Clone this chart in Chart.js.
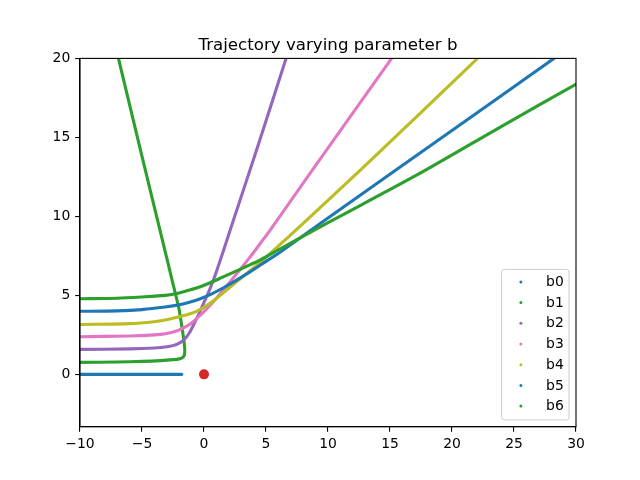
<!DOCTYPE html>
<html>
<head>
<meta charset="utf-8">
<script src="https://cdn.jsdelivr.net/npm/chart.js@4.4.1/dist/chart.umd.min.js"></script>
<style>
  html, body { margin: 0; padding: 0; background: #fff; }
  #wrap { width: 640px; height: 480px; }
</style>
</head>
<body>
<div id="wrap"><canvas id="myChart" width="640" height="480"></canvas></div>
<script>
// values
const names = ["b0", "b1", "b2", "b3", "b4", "b5", "b6"];

const b0X = [-10, -6, -1.8];
const b0Y = [0, 0, 0];

const b1X = [-10, -7, -5, -3.5, -2.5, -2, -1.75, -1.6, -1.55, -1.6, -1.76, -2.03, -2.46, -3.35, -5, -6.9, -7.2];
const b1Y = [0.76, 0.78, 0.82, 0.87, 0.93, 0.98, 1.05, 1.2, 1.5, 2.0, 2.9, 4.2, 5.6, 8.48, 13.8, 20, 20.97];

const b2X = [-10, -6, -4, -3, -2.2, -1.6, -1.2, -0.8, -0.4, 0, 0.5, 1, 1.58, 2.12, 4.28, 6.62, 7];
const b2Y = [1.58, 1.61, 1.67, 1.75, 1.9, 2.2, 2.6, 3.2, 3.85, 4.55, 5.45, 6.5, 7.85, 9.15, 14.3, 20, 20.93];

const b3X = [-10, -6, -4, -3.13, -2.2, -1.5, -1, -0.5, 0.1, 0.7, 1.3, 2.1, 3, 3.74, 4.55, 5.35, 8.72, 15.13, 15.6];
const b3Y = [2.38, 2.43, 2.5, 2.57, 2.75, 3.0, 3.25, 3.6, 4.05, 4.55, 5.1, 5.85, 6.72, 7.45, 8.3, 9.15, 12.91, 20, 20.52];

const b4X = [-10, -6, -4, -3.13, -2, -1.11, -0.44, 0.3, 1, 2, 3, 4, 4.95, 8, 12.63, 17.47, 22.06, 22.5];
const b4Y = [3.16, 3.21, 3.33, 3.44, 3.65, 3.84, 4.05, 4.4, 4.8, 5.45, 6.1, 6.75, 7.38, 9.55, 12.95, 16.55, 20, 20.33];

const b5X = [-10, -7, -5, -3.13, -2, -1.11, -0.3, 0.5, 1.5, 2.5, 3.74, 4.55, 6.16, 10, 15.59, 22, 28.22, 29];
const b5Y = [3.99, 4.02, 4.1, 4.26, 4.4, 4.58, 4.79, 5.05, 5.45, 5.9, 6.5, 6.92, 7.75, 9.9, 13.0, 16.55, 20, 20.43];

const b6X = [-10, -7, -5, -3.13, -2, -1.11, -0.3, 0.5, 1.5, 2.5, 3.74, 4.55, 6.16, 10, 17.47, 24, 30.08, 31];
const b6Y = [4.79, 4.82, 4.9, 5.0, 5.15, 5.35, 5.55, 5.8, 6.15, 6.5, 6.95, 7.25, 7.95, 9.6, 12.75, 15.7, 18.4, 18.8];

const centerX = [0];
const centerY = [0];

const xTicks = [-10, -5, 0, 5, 10, 15, 20, 25, 30];
const yTicks = [0, 5, 10, 15, 20];

const allX = [b0X, b1X, b2X, b3X, b4X, b5X, b6X];
const allY = [b0Y, b1Y, b2Y, b3Y, b4Y, b5Y, b6Y];
const colors = ["#1f77b4", "#2ca02c", "#9467bd", "#e377c2", "#bcbd22", "#1f77b4", "#2ca02c"];

const FONT = "'DejaVu Sans', 'Liberation Sans', sans-serif";

function toPoints(xs, ys) {
  return xs.map(function (x, i) { return { x: x, y: ys[i] }; });
}

const datasets = names.map(function (name, i) {
  return {
    label: name,
    data: toPoints(allX[i], allY[i]),
    showLine: true,
    borderColor: colors[i],
    backgroundColor: colors[i],
    borderWidth: 3.1,
    borderCapStyle: "round",
    borderJoinStyle: "round",
    tension: 0.25,
    pointRadius: 0,
    pointHoverRadius: 0,
    clip: 0,
    order: 6 - i
  };
});

datasets.push({
  label: "center",
  data: toPoints(centerX, centerY),
  showLine: false,
  pointRadius: 5,
  pointBackgroundColor: "#d62728",
  pointBorderWidth: 0,
  order: -1
});

// frame, title and matplotlib-like legend
const mplDecor = {
  id: "mplDecor",
  afterDatasetsDraw: function (chart) {
    const ca = chart.chartArea;
    const ctx = chart.ctx;
    ctx.save();
    ctx.strokeStyle = "#000";
    ctx.lineWidth = 1.1;
    ctx.strokeRect(ca.left, ca.top, ca.right - ca.left, ca.bottom - ca.top);
    ctx.restore();
  },
  afterDraw: function (chart) {
    const ca = chart.chartArea;
    const ctx = chart.ctx;
    ctx.save();

    ctx.fillStyle = "#000";
    ctx.font = "16.67px " + FONT;
    ctx.textAlign = "center";
    ctx.textBaseline = "alphabetic";
    ctx.fillText("Trajectory varying parameter b", (ca.left + ca.right) / 2, ca.top - 8.8);

    const w = 67.5, h = 150.5;
    const x0 = ca.right - 6.9 - w;
    const y0 = ca.bottom - 6.9 - h;
    ctx.beginPath();
    ctx.roundRect(x0, y0, w, h, 2.8);
    ctx.fillStyle = "rgba(255,255,255,0.8)";
    ctx.fill();
    ctx.strokeStyle = "#cccccc";
    ctx.lineWidth = 1;
    ctx.stroke();

    ctx.font = "13.9px " + FONT;
    ctx.textAlign = "left";
    ctx.textBaseline = "middle";
    names.forEach(function (name, i) {
      const cy = y0 + 12.5 + i * 20.7;
      ctx.beginPath();
      ctx.arc(x0 + 19.3, cy, 1.5, 0, Math.PI * 2);
      ctx.fillStyle = colors[i];
      ctx.fill();
      ctx.fillStyle = "#000";
      ctx.fillText(name, x0 + 44.5, cy + 0.5);
    });
    ctx.restore();
  }
};

function minusLabel(v) {
  return String(v).replace("-", "\u2212");
}

const axisCommon = {
  type: "linear",
  grid: {
    display: true,
    drawOnChartArea: false,
    drawTicks: true,
    tickLength: 4.86,
    color: "#000",
    lineWidth: 1.1
  },
  border: { display: true, color: "#000", width: 1.1 },
  ticks: {
    color: "#000",
    font: { family: FONT, size: 13.9 },
    padding: 4.86,
    autoSkip: false,
    maxRotation: 0,
    callback: minusLabel
  }
};

const config = {
  type: "scatter",
  data: { datasets: datasets },
  options: {
    responsive: false,
    animation: false,
    events: [],
    layout: { padding: { left: 0, right: 64, top: 58.4, bottom: 0 } },
    plugins: {
      legend: { display: false },
      title: { display: false },
      tooltip: { enabled: false }
    },
    scales: {
      x: Object.assign({}, axisCommon, {
        position: "bottom",
        min: -10,
        max: 30,
        afterBuildTicks: function (scale) {
          scale.ticks = xTicks.map(function (v) { return { value: v }; });
        },
        afterFit: function (scale) { scale.height = 53.2; }
      }),
      y: Object.assign({}, axisCommon, {
        position: "left",
        min: -3.32,
        max: 20,
        afterBuildTicks: function (scale) {
          scale.ticks = yTicks.map(function (v) { return { value: v }; });
        },
        afterFit: function (scale) { scale.width = 80; }
      })
    }
  },
  plugins: [mplDecor]
};

new Chart(document.getElementById("myChart"), config);
</script>
</body>
</html>
